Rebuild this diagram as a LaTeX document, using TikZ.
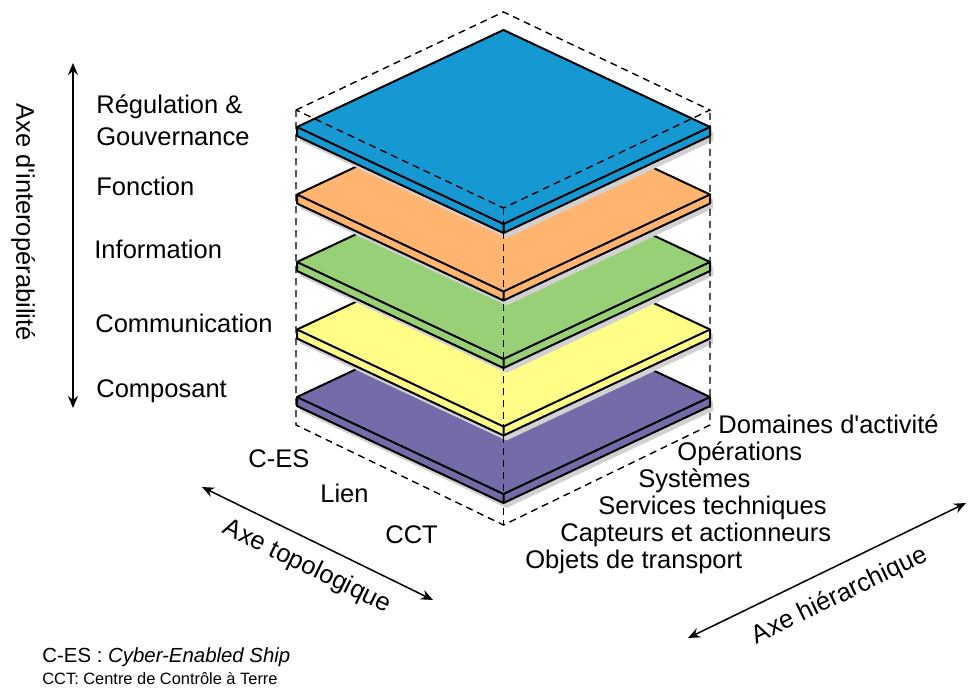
\documentclass[tikz,border=0pt]{standalone}
\usepackage{fontspec}
\setmainfont{Liberation Sans}
\usetikzlibrary{arrows.meta}
\definecolor{layerblue}{HTML}{1699D3}
\definecolor{layerorange}{HTML}{FFB570}
\definecolor{layergreen}{HTML}{97D077}
\definecolor{layeryellow}{HTML}{FFFF88}
\definecolor{layerpurple}{HTML}{736CA8}
\begin{document}
\begin{tikzpicture}[x=0.5pt, y=-0.5pt,
    lbl/.style={anchor=base west, inner sep=0pt, font=\fontsize{12.75}{16}\selectfont},
    legende/.style={anchor=base west, inner sep=0pt, font=\fontsize{8.2}{11}\selectfont},
    axearrow/.style={line width=0.75pt, {Stealth[length=6pt,width=5pt]}-{Stealth[length=6pt,width=5pt]}},
    slabline/.style={line width=1pt, line join=round},
    boxline/.style={dash pattern=on 3.5pt off 2.5pt, line width=0.7pt}]
    \fill[white] (0,0) rectangle (968,690);
    \useasboundingbox (0,0) rectangle (968,690);

    % Calques (du bas vers le haut)
    \foreach \y/\c in {397/layerpurple, 329.5/layeryellow, 262/layergreen, 194.5/layerorange, 127/layerblue}{
        \begin{scope}[shift={(0,\y)}]
            \fill[black!18] (300,5) -- (506.5,-92) -- (713,5) -- (713,14) -- (506.5,111) -- (300,14) -- cycle;
            \filldraw[slabline, fill=\c] (297,0) -- (503.5,-97) -- (710,0) -- (710,9) -- (503.5,106) -- (297,9) -- cycle;
            \draw[slabline] (297,0) -- (503.5,97) -- (710,0) (503.5,97) -- (503.5,106);
        \end{scope}
    }

    % Cube en pointillés
    \draw[boxline] (296,110) -- (503.5,12) -- (710,110) -- (503.5,208) -- cycle;
    \draw[boxline] (296,110) -- (296,425) -- (503.5,525) -- (710,425) -- (710,110);
    \draw[boxline] (503.5,208) -- (503.5,525);

    % Axe d'interopérabilité
    \coordinate (interHaut) at (73,63);
    \coordinate (interBas) at (73,408);
    \draw[axearrow] (interHaut) -- (interBas);
    \node[lbl, anchor=center, rotate=-90] (interAxe) at (23,222) {Axe d\textquotesingle interopérabilité};
    \node[lbl, align=left] (regul) at (96,145) {Régulation \&\\Gouvernance};
    \node[lbl] (fonct) at (96,195) {Fonction};
    \node[lbl] (infor) at (94,258) {Information};
    \node[lbl] (commu) at (95,332) {Communication};
    \node[lbl] (compo) at (96,397) {Composant};

    % Axe topologique
    \coordinate (topoHaut) at (202,487);
    \coordinate (topoBas) at (433,600);
    \draw[axearrow] (topoHaut) -- (topoBas);
    \node[lbl, anchor=center, rotate=-26] (topoAxe) at (307,567) {Axe topologique};
    \node[lbl] (ces) at (248,467) {C-ES};
    \node[lbl] (lien) at (320,502) {Lien};
    \node[lbl] (cct) at (385,543) {CCT};

    % Axe hiérarchique
    \coordinate (hierBas) at (688,638);
    \coordinate (hierHaut) at (966,503);
    \draw[axearrow] (hierBas) -- (hierHaut);
    \node[lbl, anchor=center, rotate=26] (hierAxe) at (840,596) {Axe hiérarchique};
    \node[lbl] (domai) at (718,433) {Domaines d\textquotesingle activité};
    \node[lbl] (opera) at (677,460) {Opérations};
    \node[lbl] (syste) at (638,487) {Systèmes};
    \node[lbl] (servi) at (598,514) {Services techniques};
    \node[lbl] (capte) at (560,541) {Capteurs et actionneurs};
    \node[lbl] (objet) at (525,568) {Objets de transport};

    % Légende
    \node[legende, font=\fontsize{10.2}{12}\selectfont] (noteCes) at (42,662) {C-ES : \textit{Cyber-Enabled Ship}};
    \node[legende] (noteCct) at (42,684) {CCT: Centre de Contrôle à Terre};
\end{tikzpicture}
\end{document}
